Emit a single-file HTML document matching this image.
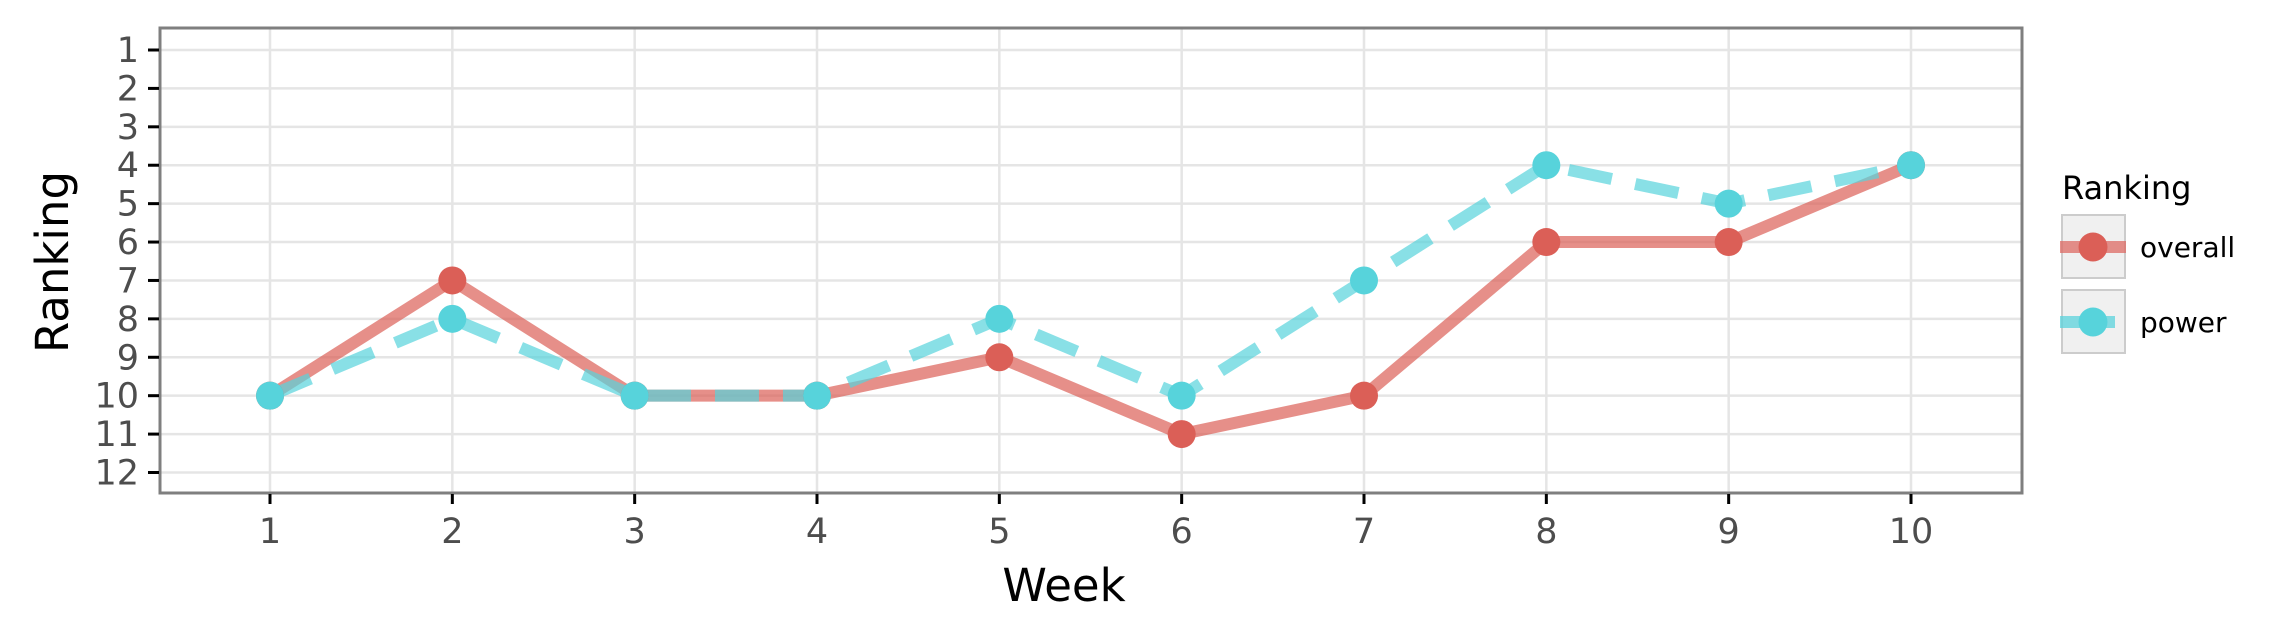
<!DOCTYPE html>
<html><head><meta charset="utf-8"><style>
body{margin:0;background:#fff}
svg{display:block;font-family:"DejaVu Sans","Liberation Sans",sans-serif}
</style></head><body>
<svg id="chart" width="2276" height="641" viewBox="0 0 2276 641" xmlns="http://www.w3.org/2000/svg">
<rect width="2276" height="641" fill="#fff"/>
<g id="grid"></g>
<g id="series"></g>
<rect x="160" y="28" width="1862" height="465" fill="none" stroke="#7f7f7f" stroke-width="3"/>
<g id="axes"></g>
<text x="1064" y="601" font-size="45" text-anchor="middle" fill="#000">Week</text>
<text transform="translate(68,262) rotate(-90)" font-size="45" text-anchor="middle" fill="#000">Ranking</text>
<g>
<text x="2062" y="199" font-size="32" fill="#000">Ranking</text>
<g>
<rect x="2062" y="215" width="63" height="63" fill="#f0f0f0" stroke="#cccccc" stroke-width="2"/>
<line x1="2060" y1="247" x2="2126" y2="247" stroke="#de6b64" stroke-opacity="0.75" stroke-width="12"/>
<circle cx="2093" cy="247" r="14.5" fill="#db5f57"/>
<text x="2140" y="257" font-size="28" fill="#000">overall</text>
</g>
<g>
<rect x="2062" y="290" width="63" height="63" fill="#f0f0f0" stroke="#cccccc" stroke-width="2"/>
<line x1="2060" y1="322" x2="2115" y2="322" stroke="#5bd3dc" stroke-opacity="0.75" stroke-width="12"/>
<circle cx="2093" cy="322" r="14.5" fill="#57d3db"/>
<text x="2140" y="332" font-size="28" fill="#000">power</text>
</g>
</g>
</svg>
<script>
const weeks=[1,2,3,4,5,6,7,8,9,10];
const overall=[10,7,10,10,9,11,10,6,6,4];
const power=[10,8,10,10,8,10,7,4,5,4];
const yTicks=[1,2,3,4,5,6,7,8,9,10,11,12];
const NS="http://www.w3.org/2000/svg";
const X=w=>270+(w-1)*(1911-270)/9;
const Y=r=>50+(r-1)*(472.5-50)/11;
function mk(tag,attrs,parent){const e=document.createElementNS(NS,tag);for(const k in attrs)e.setAttribute(k,attrs[k]);parent.appendChild(e);return e;}
const grid=document.getElementById('grid'),axes=document.getElementById('axes'),ser=document.getElementById('series');
yTicks.forEach(t=>{
 const g=mk('line',{x1:160,x2:2022,y1:Y(t),y2:Y(t),stroke:'#e5e5e5','stroke-width':2.5},grid);
 
 
 const tk=mk('line',{x1:148,x2:159,y1:Y(t),y2:Y(t),stroke:'#000','stroke-width':3},axes);
 
 
 const tx=mk('text',{x:139,y:Y(t)+12,'font-size':35,'text-anchor':'end',fill:'#4d4d4d'},axes);
 tx.textContent=t;
 
 
});
weeks.forEach(w=>{
 const g=mk('line',{x1:X(w),x2:X(w),y1:28,y2:493,stroke:'#e5e5e5','stroke-width':2.5},grid);
 
 
 const tk=mk('line',{x1:X(w),x2:X(w),y1:494,y2:504,stroke:'#000','stroke-width':3},axes);
 
 
 const tx=mk('text',{x:X(w),y:543,'font-size':35,'text-anchor':'middle',fill:'#4d4d4d'},axes);
 tx.textContent=w;
 
 
});
function line(vals,color,dash,name){
 const p=mk('polyline',{points:weeks.map((w,i)=>X(w)+','+Y(vals[i])).join(' '),fill:'none',stroke:color,'stroke-opacity':0.7,'stroke-width':12,'stroke-linejoin':'round'},ser);
 if(dash)p.setAttribute('stroke-dasharray',dash);
 
 
}
function pts(vals,color,name){
 weeks.forEach((w,i)=>{
  const c=mk('circle',{cx:X(w),cy:Y(vals[i]),r:14,fill:color},ser);
  
  
 });
}
line(overall,'#db5f57',null,'overall');
line(power,'#57d3db','44 24','power');
pts(overall,'#db5f57','overall');
pts(power,'#57d3db','power');
</script>
</body></html>
